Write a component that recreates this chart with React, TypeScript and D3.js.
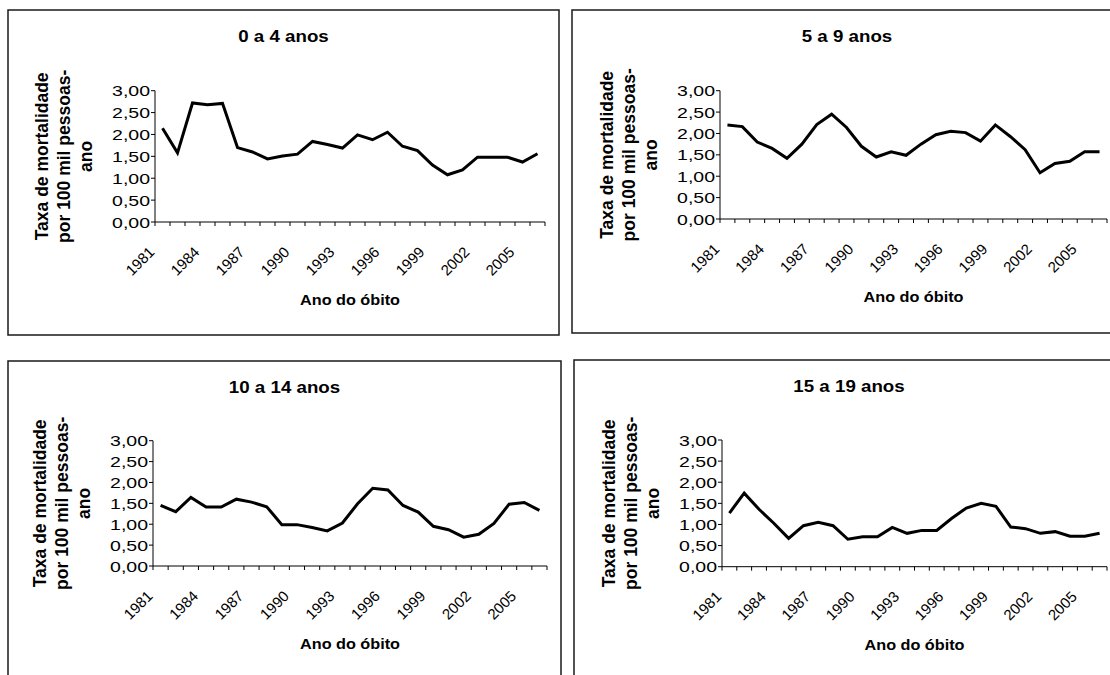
import React from "react";
import * as d3 from "d3";

// Anos do óbito (eixo X)
const years = [
  1981, 1982, 1983, 1984, 1985, 1986, 1987, 1988, 1989, 1990, 1991, 1992, 1993,
  1994, 1995, 1996, 1997, 1998, 1999, 2000, 2001, 2002, 2003, 2004, 2005, 2006,
];
const yearLabels = [1981, 1984, 1987, 1990, 1993, 1996, 1999, 2002, 2005];
const yTicks = [0, 0.5, 1, 1.5, 2, 2.5, 3];

// Taxa de mortalidade por 100 mil pessoas-ano
const rate0to4 = [
  2.14, 1.58, 2.72, 2.68, 2.71, 1.7, 1.6, 1.44, 1.51, 1.55, 1.84, 1.77, 1.69,
  1.99, 1.88, 2.05, 1.73, 1.63, 1.3, 1.08, 1.19, 1.48, 1.48, 1.48, 1.37, 1.56,
];
const rate5to9 = [
  2.2, 2.16, 1.8, 1.65, 1.42, 1.75, 2.21, 2.45, 2.14, 1.7, 1.45, 1.57, 1.49,
  1.75, 1.97, 2.05, 2.02, 1.82, 2.2, 1.93, 1.62, 1.08, 1.3, 1.35, 1.57, 1.57,
];
const rate10to14 = [
  1.45, 1.3, 1.64, 1.41, 1.41, 1.6, 1.53, 1.42, 0.99, 0.99, 0.92, 0.84, 1.03,
  1.49, 1.86, 1.82, 1.45, 1.29, 0.95, 0.87, 0.69, 0.76, 1.02, 1.48, 1.52, 1.33,
];
const rate15to19 = [
  1.27, 1.74, 1.36, 1.03, 0.67, 0.97, 1.05, 0.97, 0.65, 0.71, 0.71, 0.93, 0.79,
  0.86, 0.86, 1.14, 1.39, 1.5, 1.43, 0.94, 0.9, 0.79, 0.83, 0.72, 0.72, 0.79,
];

const font = "'Liberation Sans', Arial, sans-serif";
const fmt = (v: number) => d3.format(".2f")(v).replace(".", ",");

interface PanelProps {
  title: string;
  values: number[];
  box: [number, number, number, number];
  plot: { x0: number; x1: number; yTop: number; yBot: number };
}

const Panel = ({ title, values, box, plot }: PanelProps) => {
  const [bx, by, bw, bh] = box;
  const x = d3
    .scaleBand<number>()
    .domain(years)
    .range([plot.x0, plot.x1]);
  const y = d3.scaleLinear().domain([0, 3]).range([plot.yBot, plot.yTop]);
  const line = d3
    .line<number>()
    .x((_, i) => (x(years[i]) as number) + x.bandwidth() / 2)
    .y((d) => y(d));

  const midY = (plot.yTop + plot.yBot) / 2;
  const midX = (plot.x0 + plot.x1) / 2;
  const boundaries = years.map((yr) => x(yr) as number).concat([plot.x1]);

  return (
    <g>
      <rect x={bx} y={by} width={bw} height={bh} fill="white" stroke="#1a1a1a" strokeWidth={1.5} />
      <text
        transform={`translate(${bx + bw / 2},${by + 32}) scale(1.17,1)`}
        textAnchor="middle"
        fontFamily={font}
        fontWeight="bold"
        fontSize={16}
      >
        {title}
      </text>

      {/* eixo Y */}
      <line x1={plot.x0} x2={plot.x0} y1={plot.yTop} y2={plot.yBot} stroke="black" />
      {yTicks.map((t) => (
        <g key={t}>
          <line x1={plot.x0 - 4} x2={plot.x0} y1={y(t)} y2={y(t)} stroke="black" />
          <text
            transform={`translate(${plot.x0 - 5},${y(t) + 5.5}) scale(1.3,1)`}
            textAnchor="end"
            fontFamily={font}
            fontSize={15}
          >
            {fmt(t)}
          </text>
        </g>
      ))}

      {/* eixo X */}
      <line x1={plot.x0} x2={plot.x1} y1={plot.yBot} y2={plot.yBot} stroke="black" />
      {boundaries.map((bxv, i) => (
        <line key={i} x1={bxv} x2={bxv} y1={plot.yBot} y2={plot.yBot + 4} stroke="black" />
      ))}
      {yearLabels.map((yr) => {
        const cx = (x(yr) as number) + x.bandwidth() / 2 - 7;
        return (
          <text
            key={yr}
            transform={`translate(${cx},${plot.yBot + 31}) rotate(-45)`}
            textAnchor="end"
            fontFamily={font}
            fontSize={15}
          >
            {yr}
          </text>
        );
      })}

      <text
        transform={`translate(${midX},${plot.yBot + 83}) scale(1.12,1)`}
        textAnchor="middle"
        fontFamily={font}
        fontWeight="bold"
        fontSize={14.5}
      >
        Ano do óbito
      </text>

      {/* título do eixo Y */}
      <g transform={`translate(${plot.x0},${midY}) rotate(-90)`} fontFamily={font} fontWeight="bold" fontSize={17.5} textAnchor="middle">
        <text x={0} y={-107}>Taxa de mortalidade</text>
        <text x={0} y={-85}>por 100 mil pessoas-</text>
        <text x={0} y={-63}>ano</text>
      </g>

      <path d={line(values) ?? ""} fill="none" stroke="black" strokeWidth={3} strokeLinejoin="miter" />
    </g>
  );
};

const App = () => {
  return (
    <svg
      width={1110}
      height={675}
      style={{ position: "absolute", left: 0, top: 0, background: "white" }}
    >
      <Panel
        title="0 a 4 anos"
        values={rate0to4}
        box={[8, 10, 551, 325]}
        plot={{ x0: 155, x1: 545, yTop: 90.7, yBot: 222 }}
      />
      <Panel
        title="5 a 9 anos"
        values={rate5to9}
        box={[572, 10, 550, 323]}
        plot={{ x0: 720, x1: 1107, yTop: 90.7, yBot: 219 }}
      />
      <Panel
        title="10 a 14 anos"
        values={rate10to14}
        box={[8, 361, 553, 325]}
        plot={{ x0: 153, x1: 547, yTop: 440.7, yBot: 566 }}
      />
      <Panel
        title="15 a 19 anos"
        values={rate15to19}
        box={[574, 360, 550, 325]}
        plot={{ x0: 722, x1: 1107, yTop: 440, yBot: 566.7 }}
      />
    </svg>
  );
};

export default App;
